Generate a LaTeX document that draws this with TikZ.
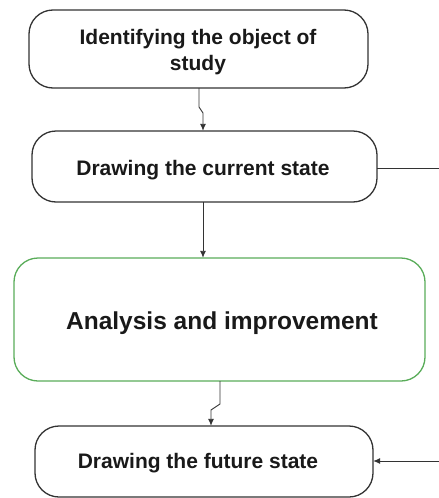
\documentclass[tikz,border=0pt]{standalone}
\usepackage{fontspec}
\setmainfont{Liberation Sans}
\usetikzlibrary{arrows.meta}
\begin{document}
\begin{tikzpicture}[x=1pt,y=-1pt,
  stepbox/.style={draw=black!80, line width=1.3pt, rounded corners=24pt, inner sep=0pt},
  greenbox/.style={draw=green!50!black!65, line width=1.3pt, rounded corners=24pt, inner sep=0pt},
  label/.style={font=\bfseries\fontsize{21}{25.5}\selectfont, align=center, text=black!90},
  biglabel/.style={font=\bfseries\fontsize{24.5}{29}\selectfont, align=center, text=black!90},
  link/.style={draw=black!80, line width=0.9pt},
  arr/.style={link, -{Latex[length=7pt,width=6pt]}}]
\useasboundingbox (0,0) rectangle (439,498);
% boxes
\draw[stepbox] (29,10) rectangle (368,88);
\node (b1) [minimum width=339pt, minimum height=78pt] at (198.5,49) {};
\node[label] at (198,52) {Identifying the object of\\study};

\draw[stepbox] (32,131) rectangle (377,202);
\node (b2) [minimum width=345pt, minimum height=71pt] at (204.5,166.5) {};
\node[label] at (203,170) {Drawing the current state};

\draw[greenbox] (14,258) rectangle (425,381);
\node (b3) [minimum width=411pt, minimum height=123pt] at (219.5,319.5) {};
\node[biglabel] at (222,323) {Analysis and improvement};

\draw[stepbox] (35,426) rectangle (373,497);
\node (b4) [minimum width=338pt, minimum height=71pt] at (204,461.5) {};
\node[label] at (198,463) {Drawing the future state};

% side loop ends
\coordinate (r1) at (439,168);
\coordinate (r2) at (439,461);

% connectors
\draw[arr] (b1.south -| 199,0) -- (199,107) -- (203,113) -- (b2.north -| 203,0);
\draw[arr] (b2.south -| 203,0) -- (b3.north -| 203,0);
\draw[arr] (b3.south -| 220,0) -- (220,404) -- (211,410) -- (b4.north -| 211,0);
\draw[link] (b2.east |- r1) -- (r1);
\draw[arr] (r2) -- (b4.east |- r2);
\end{tikzpicture}
\end{document}
